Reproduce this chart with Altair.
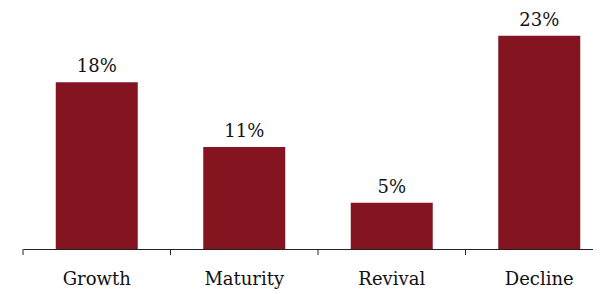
import altair as alt
import pandas as pd

stages = ["Growth", "Maturity", "Revival", "Decline"]
values = [18, 11, 5, 23]
labels = ["18%", "11%", "5%", "23%"]

df = pd.DataFrame({"stage": stages, "value": values, "label": labels})

FONT = "DejaVu Serif"
P_INNER = 0.445


def xscale():
    return alt.Scale(paddingInner=P_INNER, paddingOuter=P_INNER / 2, range=[0, 590])


yenc = alt.Y("value:Q", scale=alt.Scale(domain=[0, 26], nice=False), axis=None)

bars = alt.Chart(df).mark_bar(color="#831420", size=82).encode(
    x=alt.X("stage:N", sort=stages, scale=xscale(),
            axis=alt.Axis(title=None, labelAngle=0, labelFont=FONT, labelFontSize=18,
                          labelColor="#111111", labelPadding=21, ticks=False,
                          domainColor="#222222", domainWidth=1)),
    y=yenc,
)

text = alt.Chart(df).mark_text(dy=-10, baseline="alphabetic", font=FONT, fontSize=18,
                               color="#111111").encode(
    x=alt.X("stage:N", sort=stages, scale=xscale(), axis=None),
    y=yenc,
    text="label:N",
)

# tick marks at the step boundaries (left edge of each category's step)
ticks = alt.Chart(df).mark_rule(color="#222222", strokeWidth=1).encode(
    x=alt.X("stage:N", sort=stages, bandPosition=0, axis=None,
            scale=alt.Scale(paddingInner=0, paddingOuter=0, range=[0, 590])),
    y=alt.value(241),
    y2=alt.value(247),
)

chart = (bars + text + ticks).resolve_scale(x="independent").properties(
    width=570, height=241,
    autosize=alt.AutoSizeParams(type="none"),
    padding={"left": 15, "top": 0, "right": 0, "bottom": 40},
).configure_view(stroke=None)

chart.save("out.html", embed_options={"renderer": "svg", "actions": False})
